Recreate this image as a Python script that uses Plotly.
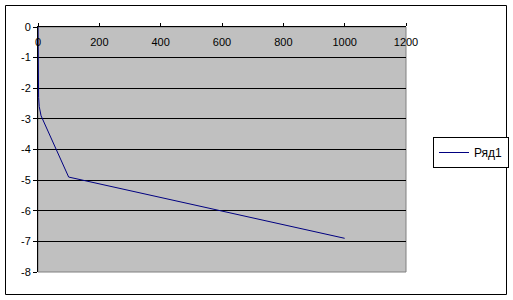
import plotly.graph_objects as go

x_vals = [0, 0.5, 1, 2, 4, 10, 100, 1000]
y_vals = [0, -1.5, -2.0, -2.3, -2.6, -2.9, -4.9, -6.9]
series_name = "Ряд1"
x_ticks = [0, 200, 400, 600, 800, 1000, 1200]
y_ticks = [0, -1, -2, -3, -4, -5, -6, -7, -8]

W, H = 513, 300
L, R, T, B = 38, 406, 27, 272

def px(xp):
    return (xp - L) / (R - L)

def py(yp):
    return (B - yp) / (B - T)

fig = go.Figure()
fig.add_trace(go.Scatter(x=x_vals, y=y_vals, mode="lines", name=series_name,
                         line=dict(color="#000080", width=1)))

ff = "Liberation Sans, Arial, sans-serif"
font = dict(family=ff, size=11, color="black")

fig.update_layout(
    width=W, height=H,
    margin=dict(l=L, r=W - R, t=T, b=H - B, autoexpand=False),
    paper_bgcolor="white",
    plot_bgcolor="#C0C0C0",
    font=font,
    showlegend=True,
    legend=dict(xref="container", yref="container", x=433 / W, y=1 - 137 / H,
                xanchor="left", yanchor="top",
                bordercolor="black", borderwidth=1, bgcolor="white",
                font=dict(family=ff, size=12, color="black"),
                itemwidth=30, tracegroupgap=0),
    xaxis=dict(range=[0, 1200], tickvals=x_ticks, ticktext=[str(v) for v in x_ticks],
               side="top", ticklabelposition="inside", ticklabeloverflow="allow",
               ticklabelstandoff=11,
               ticks="outside", ticklen=3, tickcolor="black",
               tickfont=dict(family=ff, size=11, color="black"),
               showgrid=False, zeroline=False, showline=True, linecolor="black", linewidth=1,
               fixedrange=True),
    yaxis=dict(range=[-8, 0], tickvals=y_ticks, ticktext=[str(v) for v in y_ticks],
               ticks="outside", ticklen=4, tickcolor="black",
               tickfont=dict(family=ff, size=11, color="black"),
               showgrid=True, gridcolor="black", gridwidth=1,
               zeroline=False, showline=True, linecolor="black", linewidth=1,
               fixedrange=True),
    shapes=[
        dict(type="rect", xref="paper", yref="paper", x0=0, x1=1, y0=0, y1=1,
             line=dict(color="#808080", width=1), layer="below"),
        dict(type="rect", xref="paper", yref="paper",
             x0=px(5.5), x1=px(506.5), y0=py(294.5), y1=py(5.5),
             line=dict(color="black", width=1)),
    ],
)

fig.write_html("out.html")
